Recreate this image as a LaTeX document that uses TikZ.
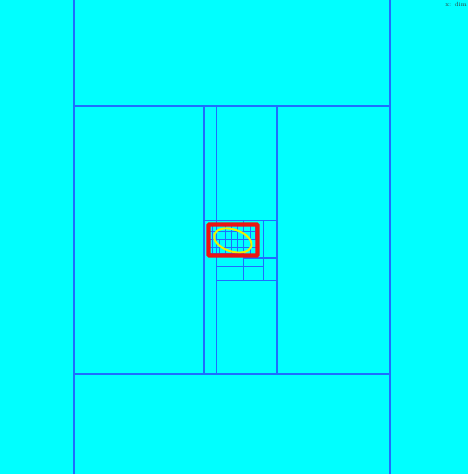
\documentclass[tikz,border=0pt]{standalone}
\definecolor{bgcyan}{RGB}{0,255,255}
\definecolor{meshblue}{RGB}{30,110,255}
\definecolor{boxred}{RGB}{235,20,20}
\definecolor{curveyellow}{RGB}{240,240,0}
\begin{document}
\begin{tikzpicture}[x=1pt,y=-1pt,
  meshline/.style={draw=meshblue,line width=1.1pt},
  fineline/.style={draw=meshblue,line width=0.7pt},
  boxline/.style={draw=boxred,line width=4.4pt,rounded corners=1pt},
  curve/.style={draw=curveyellow,line width=2pt}]
\fill[bgcyan] (0,0) rectangle (468,474);
\useasboundingbox (0,0) rectangle (468,474);
% coarse mesh
\draw[meshline] (74,0) -- (74,474);
\draw[meshline] (390,0) -- (390,474);
\draw[meshline] (74,106) -- (390,106);
\draw[meshline] (74,374) -- (390,374);
\draw[meshline] (204,106) -- (204,374);
\draw[meshline] (216.5,106) -- (216.5,374);
\draw[meshline] (277,106) -- (277,374);
\draw[meshline] (204,220.5) -- (277,220.5);
\draw[meshline] (216.5,280.5) -- (277,280.5);
\draw[meshline] (243.7,220.5) -- (243.7,280.5);
\draw[meshline] (263.3,220.5) -- (263.3,280.5);
\draw[meshline] (216.5,266.5) -- (263.3,266.5);
\draw[meshline] (243.7,258) -- (277,258);
% fine mesh near the curve
\foreach \x in {212,225,231,237,250}
  \draw[fineline] (\x,224) -- (\x,257);
\foreach \y in {231,239,247}
  \draw[fineline] (207,\y) -- (259,\y);
\draw[fineline] (219,239) -- (219,257);
\draw[fineline] (255,224) -- (255,239);
\draw[fineline] (207,253) -- (243.7,253);
% curve and box
\draw[curve] (232.8,240.5) ellipse [x radius=19.5,y radius=11,rotate=-18];
\draw[boxline] (208.5,224.5) rectangle (257.5,255.5);
% label
\node[anchor=east,inner sep=0pt,font=\fontsize{6}{7}\selectfont,text=black!80] (lbl) at (467,4.5) {x: dim};
\end{tikzpicture}
\end{document}
